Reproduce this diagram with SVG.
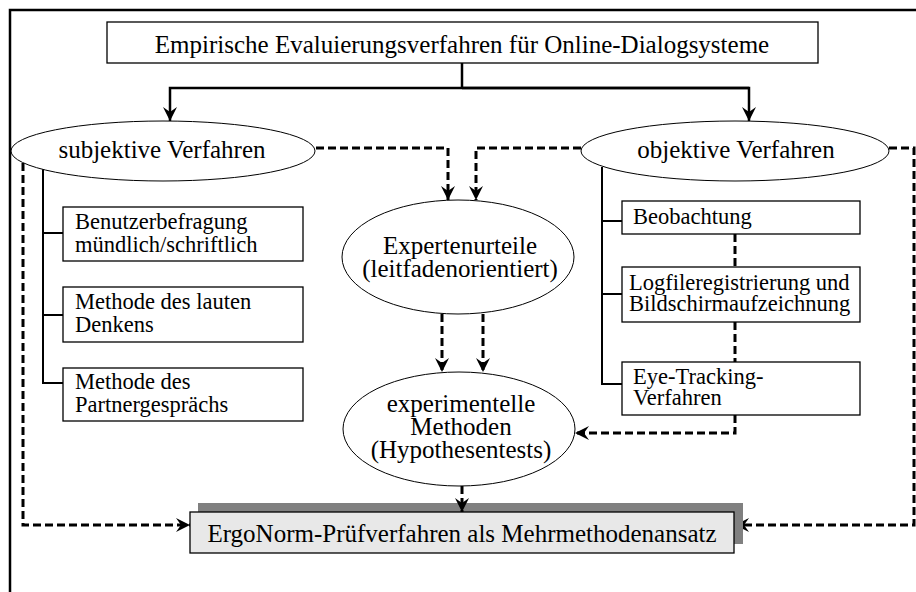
<svg xmlns="http://www.w3.org/2000/svg" width="916" height="592" viewBox="0 0 916 592">
<style>
text{font-family:"Liberation Serif","Times New Roman",serif;fill:#000}
.t25{font-size:25px}
.t22{font-size:22.5px}
.mid{text-anchor:middle}
.box{fill:#fff;stroke:#000;stroke-width:1.3}
.ell{fill:#fff;stroke:#000;stroke-width:1}
.solid{fill:none;stroke:#000;stroke-width:2.5}
.tree{fill:none;stroke:#000;stroke-width:2}
.dash{fill:none;stroke:#000;stroke-width:3;stroke-dasharray:8 4}
</style>
<defs>
<marker id="ar" markerUnits="userSpaceOnUse" markerWidth="15" markerHeight="15" refX="14" refY="7" orient="auto" viewBox="0 0 15 14">
<path d="M0,0 L14,7 L0,14 L5,7 Z" fill="#000"/>
</marker>
</defs>
<rect x="10" y="10" width="930" height="620" fill="none" stroke="#000" stroke-width="2.5"/>

<g id="connectors">
<path class="solid" d="M462,63 V88"/>
<path class="solid" d="M749,88 H170 V121" marker-end="url(#ar)"/>
<path class="solid" d="M462,88 H749 V121" marker-end="url(#ar)"/>
<path class="tree" d="M43,169 V383 H63 M43,233 H63 M43,315 H63"/>
<path class="tree" d="M602,167 V384 H622 M602,221 H622 M602,294 H622"/>
<path class="dash" d="M316,148 H448 V200" marker-end="url(#ar)"/>
<path class="dash" d="M581,148 H476 V200" marker-end="url(#ar)"/>
<path class="dash" d="M442,314 V372" marker-end="url(#ar)"/>
<path class="dash" d="M483,314 V372" marker-end="url(#ar)"/>
<path class="dash" d="M735,234 V267 M735,322 V362"/>
<path class="dash" d="M735,415 V433 H575" marker-end="url(#ar)"/>
<path class="dash" d="M23,163 V525 H190" marker-end="url(#ar)"/>
<path class="dash" d="M889,148 H914 V525 H735" marker-end="url(#ar)"/>
</g>

<g id="top">
<rect class="box" x="107" y="22" width="711" height="41"/>
<text class="t25 mid" x="462" y="53">Empirische Evaluierungsverfahren für Online-Dialogsysteme</text>
</g>

<g id="subjektiv">
<ellipse class="ell" cx="163" cy="151" rx="152" ry="30"/>
<text class="t25 mid" x="162" y="158">subjektive Verfahren</text>
</g>

<g id="objektiv">
<ellipse class="ell" cx="735" cy="151" rx="154" ry="30"/>
<text class="t25 mid" x="736" y="158">objektive Verfahren</text>
</g>

<g id="benutzerbefragung">
<rect class="box" x="63" y="207" width="240" height="54"/>
<text class="t22" x="75" y="229">Benutzerbefragung</text>
<text class="t22" x="75" y="252">mündlich/schriftlich</text>
</g>

<g id="lautesdenken">
<rect class="box" x="63" y="287" width="240" height="55"/>
<text class="t22" x="75" y="309">Methode des lauten</text>
<text class="t22" x="75" y="332">Denkens</text>
</g>

<g id="partnergespraech">
<rect class="box" x="63" y="368" width="240" height="53"/>
<text class="t22" x="75" y="389">Methode des</text>
<text class="t22" x="75" y="412">Partnergesprächs</text>
</g>

<g id="beobachtung">
<rect class="box" x="622" y="201" width="238" height="33"/>
<text class="t22" x="633" y="224">Beobachtung</text>
</g>

<g id="logfile">
<rect class="box" x="622" y="267" width="238" height="55"/>
<text class="t22" x="629" y="290">Logfileregistrierung und</text>
<text class="t22" x="629" y="311">Bildschirmaufzeichnung</text>
</g>

<g id="eyetracking">
<rect class="box" x="622" y="362" width="238" height="53"/>
<text class="t22" x="633" y="384">Eye-Tracking-</text>
<text class="t22" x="633" y="405">Verfahren</text>
</g>

<g id="experten">
<ellipse class="ell" cx="458" cy="257" rx="116" ry="57"/>
<text class="t25 mid" x="460" y="254">Expertenurteile</text>
<text class="t25 mid" x="460" y="277">(leitfadenorientiert)</text>
</g>

<g id="experimentell">
<ellipse class="ell" cx="459" cy="429" rx="116" ry="57"/>
<text class="t25 mid" x="461" y="412">experimentelle</text>
<text class="t25 mid" x="461" y="435">Methoden</text>
<text class="t25 mid" x="461" y="458">(Hypothesentests)</text>
</g>

<g id="ergonorm">
<rect x="198" y="503" width="545" height="41" fill="#808080"/>
<rect x="190" y="512" width="544" height="41" fill="#e8e8e8" stroke="#000" stroke-width="1.3"/>
<text class="t25 mid" x="462" y="542">ErgoNorm-Prüfverfahren als Mehrmethodenansatz</text>
</g>
<path class="dash" d="M462,486 V512" marker-end="url(#ar)"/>
</svg>
